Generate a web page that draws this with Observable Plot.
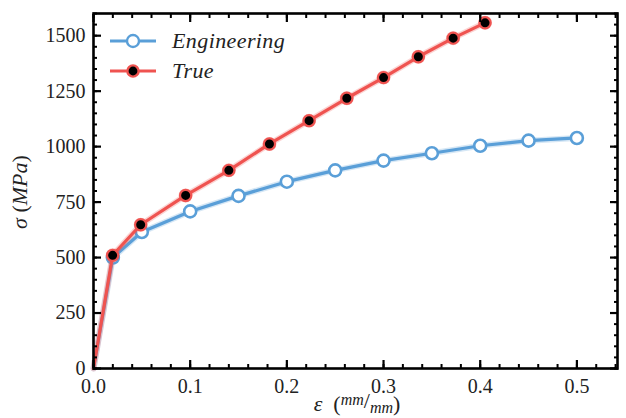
<!DOCTYPE html>
<html lang="en">
<head>
<meta charset="utf-8">
<script src="https://cdn.jsdelivr.net/npm/d3@7"></script>
<script src="https://cdn.jsdelivr.net/npm/@observablehq/plot@0.6"></script>
<style>
  body { margin: 0; background: #fff; font-family: "Liberation Serif", serif; }
</style>
</head>
<body>
<div id="wrap" style="position:relative;width:626px;height:418px;font-family:'Liberation Serif'"></div>
<script>
// Engineering stress-strain
const engStrain = [0, 0.02, 0.05, 0.10, 0.15, 0.20, 0.25, 0.30, 0.35, 0.40, 0.45, 0.50];
const engStress = [0, 500, 615, 708, 778, 842, 893, 937, 970, 1004, 1027, 1039];
// True stress-strain
const trueStrain = [0, 0.0198, 0.0488, 0.0953, 0.140, 0.182, 0.223, 0.262, 0.300, 0.336, 0.372, 0.405];
const trueStress = [0, 510, 648, 780, 893, 1012, 1117, 1218, 1311, 1405, 1489, 1558];
const seriesNames = ["Engineering", "True"];
const xMajor = [0, 0.1, 0.2, 0.3, 0.4, 0.5];
const xMinor = d3.range(0, 0.55, 0.02);
const yMajor = [0, 250, 500, 750, 1000, 1250, 1500];
const yMinor = d3.range(0, 1601, 50);

const BLUE = "#5a9fd8";
const RED = "#ef5350";
const FONT = "Liberation Serif";

const eng = engStrain.map((x, i) => ({x, y: engStress[i]}));
const tru = trueStrain.map((x, i) => ({x, y: trueStress[i]}));

const chart = Plot.plot({
  width: 626,
  height: 418,
  marginLeft: 93,
  marginRight: 9,
  marginTop: 13,
  marginBottom: 50,
  style: {fontFamily: FONT, fontSize: "20px", background: "#fff"},
  x: {domain: [0, 0.542], label: null},
  y: {domain: [0, 1600], label: null},
  marks: [
    Plot.line(eng, {x: "x", y: "y", stroke: BLUE, strokeWidth: 6, strokeOpacity: 0.25}),
    Plot.line(eng, {x: "x", y: "y", stroke: BLUE, strokeWidth: 3.2}),
    Plot.dot(eng.slice(1), {x: "x", y: "y", r: 6, fill: "white", stroke: BLUE, strokeWidth: 2.6}),
    Plot.line(tru, {x: "x", y: "y", stroke: RED, strokeWidth: 6, strokeOpacity: 0.25}),
    Plot.line(tru, {x: "x", y: "y", stroke: RED, strokeWidth: 3.2}),
    Plot.dot(tru.slice(1), {x: "x", y: "y", r: 7, fill: RED, fillOpacity: 0.35, stroke: "none"}),
    Plot.dot(tru.slice(1), {x: "x", y: "y", r: 5.6, fill: "black", stroke: RED, strokeWidth: 2.2}),
    Plot.axisX({anchor: "bottom", ticks: xMinor, tickSize: -4, tickFormat: () => "", strokeWidth: 2}),
    Plot.axisX({anchor: "bottom", ticks: xMajor, tickSize: -8, tickFormat: () => "", strokeWidth: 2.2}),
    Plot.axisX({anchor: "top", ticks: xMinor, tickSize: -4, tickFormat: () => "", strokeWidth: 2}),
    Plot.axisX({anchor: "top", ticks: xMajor, tickSize: -8, tickFormat: () => "", strokeWidth: 2.2}),
    Plot.axisY({anchor: "left", ticks: yMinor, tickSize: -4, tickFormat: () => "", strokeWidth: 2}),
    Plot.axisY({anchor: "left", ticks: yMajor, tickSize: -8, tickFormat: () => "", strokeWidth: 2.2}),
    Plot.axisY({anchor: "right", ticks: yMinor, tickSize: -4, tickFormat: () => "", strokeWidth: 2}),
    Plot.axisY({anchor: "right", ticks: yMajor, tickSize: -8, tickFormat: () => "", strokeWidth: 2.2}),
    Plot.axisX({anchor: "bottom", ticks: xMajor, tickSize: 0, tickPadding: 10, tickFormat: d3.format(".1f"), fill: "#222", fontSize: 20, fontFamily: FONT}),
    Plot.axisY({anchor: "left", ticks: yMajor, tickSize: 0, tickPadding: 8, tickFormat: d => String(d), fill: "#222", fontSize: 20, fontFamily: FONT}),
    Plot.frame({stroke: "black", strokeWidth: 2.6})
  ]
});

const wrap = document.getElementById("wrap");
wrap.appendChild(chart);

const svg = d3.select(chart);
const yt = svg.append("text")
  .attr("transform", "translate(27,192) rotate(-90)")
  .attr("text-anchor", "middle")
  .style("font-family", FONT).attr("font-size", 22).attr("fill", "#222");
yt.append("tspan").attr("font-style", "italic").text("\u03c3");
yt.append("tspan").text(" (");
yt.append("tspan").attr("font-style", "italic").text("MPa");
yt.append("tspan").text(")");

const xt = svg.append("text")
  .attr("x", 357).attr("y", 411)
  .attr("text-anchor", "middle")
  .style("font-family", FONT).attr("font-size", 22).attr("fill", "#222");
xt.append("tspan").attr("font-style", "italic").text("\u03b5 ");
xt.append("tspan").text(" (");
xt.append("tspan").attr("font-style", "italic").attr("font-size", 16).attr("dy", -6).text("mm");
xt.append("tspan").attr("font-size", 22).attr("dy", 3).text("/");
xt.append("tspan").attr("font-style", "italic").attr("font-size", 16).attr("dy", 5).text("mm");
xt.append("tspan").attr("dy", -2).text(")");

const legend = d3.select(wrap).append("div")
  .style("position", "absolute").style("left", "108px").style("top", "26px")
  .style("font-family", FONT).style("font-style", "italic").style("font-size", "22px")
  .style("color", "#222").style("letter-spacing", "0.4px");
const items = [
  {name: seriesNames[0], color: BLUE, fill: "white", r: 6},
  {name: seriesNames[1], color: RED, fill: "black", r: 5.6}
];
for (const it of items) {
  const row = legend.append("div").style("display", "flex").style("align-items", "center").style("height", "30px");
  const s = row.append("svg").attr("width", 50).attr("height", 20).style("margin-right", "14px");
  s.append("line").attr("x1", 2).attr("x2", 48).attr("y1", 10).attr("y2", 10)
    .attr("stroke", it.color).attr("stroke-width", 3.2);
  s.append("circle").attr("cx", 25).attr("cy", 10).attr("r", it.r)
    .attr("fill", it.fill).attr("stroke", it.color).attr("stroke-width", 2.4);
  row.append("span").style("font-family", FONT).text(it.name);
}
</script>
</body>
</html>
